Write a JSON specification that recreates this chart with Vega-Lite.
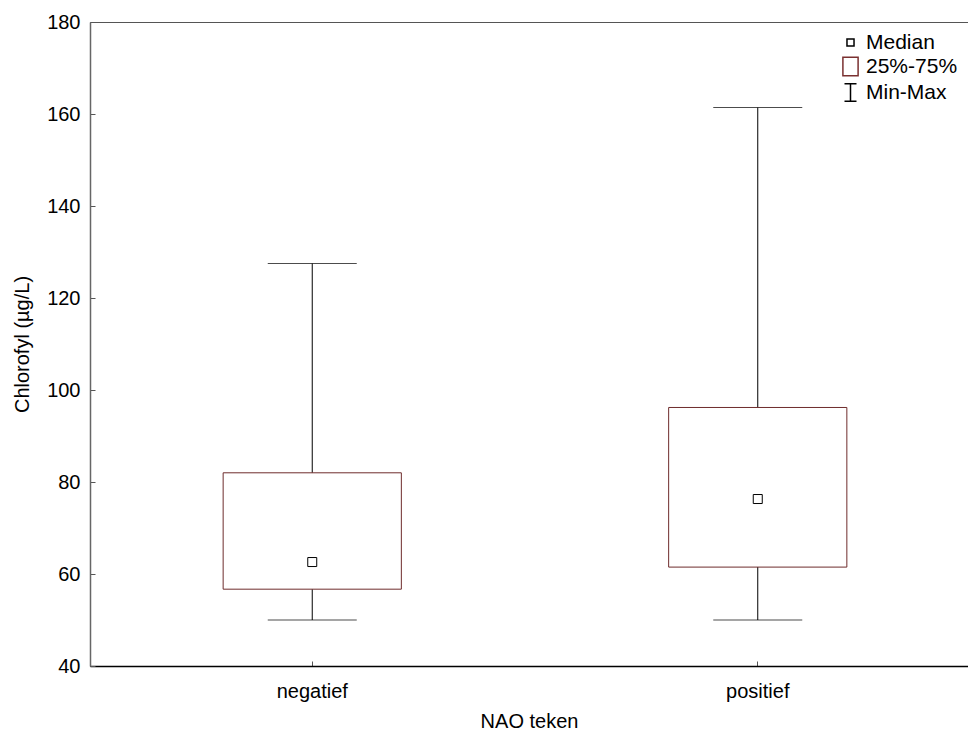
{
  "$schema": "https://vega.github.io/schema/vega-lite/v6.json",
  "autosize": {"type": "none"},
  "padding": {"left": 90, "top": 22, "right": 0, "bottom": 65},
  "width": 878,
  "height": 644,
  "background": "white",
  "config": {
    "font": "Liberation Sans",
    "view": {"stroke": "#555", "strokeWidth": 1},
    "axis": {"labelFont": "Liberation Sans", "titleFont": "Liberation Sans", "labelColor": "black", "titleColor": "black", "titleFontWeight": "normal", "grid": false}
  },
  "data": {
    "values": [
      {"group": "negatief", "min": 50, "q1": 56.7, "median": 62.6, "q3": 82.0, "max": 127.5},
      {"group": "positief", "min": 50, "q1": 61.5, "median": 76.3, "q3": 96.2, "max": 161.4}
    ]
  },
  "encoding": {
    "x": {
      "field": "group", "type": "nominal",
      "scale": {"type": "band", "paddingInner": 0.6, "paddingOuter": 0.2854, "align": 0.5236},
      "axis": {"title": "NAO teken", "labelAngle": 0, "labelFontSize": 20, "titleFontSize": 20, "tickSize": -5, "tickColor": "#555", "labelPadding": 20, "titlePadding": 10, "domainColor": "black", "domainWidth": 1.5}
    }
  },
  "layer": [
    {
      "mark": {"type": "rule", "color": "black", "strokeWidth": 1},
      "encoding": {
        "y": {"field": "min", "type": "quantitative", "scale": {"domain": [40, 180], "nice": false, "zero": false},
          "axis": {"title": "Chlorofyl (µg/L)", "values": [40, 60, 80, 100, 120, 140, 160, 180], "labelFontSize": 20, "titleFontSize": 20, "tickSize": -5, "tickColor": "#555", "labelPadding": 15, "titlePadding": 14, "domainColor": "#666", "domainWidth": 1.5}},
        "y2": {"field": "max"}
      }
    },
    {
      "mark": {"type": "tick", "color": "black", "size": 89, "thickness": 1},
      "encoding": {"y": {"field": "min", "type": "quantitative"}}
    },
    {
      "mark": {"type": "tick", "color": "black", "size": 89, "thickness": 1},
      "encoding": {"y": {"field": "max", "type": "quantitative"}}
    },
    {
      "mark": {"type": "bar", "fill": "white", "stroke": "#6e2c2c", "strokeWidth": 1},
      "encoding": {
        "y": {"field": "q1", "type": "quantitative"},
        "y2": {"field": "q3"}
      }
    },
    {
      "mark": {"type": "point", "filled": true, "fill": "white", "strokeWidth": 1, "size": 418, "opacity": 1},
      "encoding": {
        "y": {"field": "median", "type": "quantitative"},
        "shape": {
          "datum": "Median",
          "scale": {"domain": ["Median", "25%-75%", "Min-Max"], "range": ["M-0.44,-0.44H0.44V0.44H-0.44Z", "M-0.95,-1.15H0.95V1.15H-0.95Z", "M-0.75,-1.1H0.75M0,-1.1V1.1M-0.75,1.1H0.75"]},
          "legend": {
            "title": null, "orient": "top-right", "offset": 6,
            "labelFontSize": 21, "labelFont": "Liberation Sans", "labelColor": "black",
            "symbolSize": 256, "rowPadding": 1, "labelOffset": 5, "padding": 4,
            "encode": {"symbols": {"update": {
              "fill": {"value": "white"},
              "strokeWidth": {"value": 1},
              "size": {"value": 256},
              "opacity": {"value": 1}
            }}}
          }
        },
        "stroke": {
          "datum": "Median",
          "scale": {"domain": ["Median", "25%-75%", "Min-Max"], "range": ["black", "#7a3030", "black"]},
          "legend": {
            "title": null, "orient": "top-right", "offset": 6,
            "labelFontSize": 21, "labelFont": "Liberation Sans", "labelColor": "black",
            "symbolSize": 256, "rowPadding": 1, "labelOffset": 5, "padding": 4,
            "encode": {"symbols": {"update": {
              "fill": {"value": "white"},
              "strokeWidth": {"value": 1},
              "size": {"value": 256},
              "opacity": {"value": 1}
            }}}
          }
        }
      }
    }
  ]
}
